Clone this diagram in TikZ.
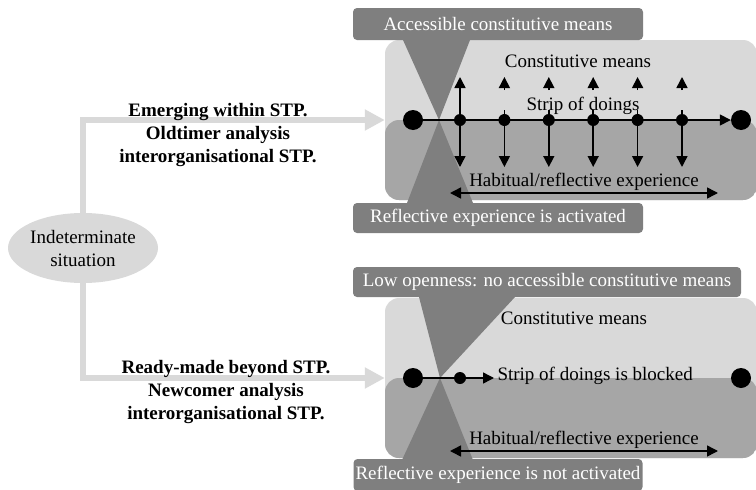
\documentclass[tikz,border=0pt]{standalone}
\usepackage{fontspec}
\setmainfont{Liberation Serif}
\usetikzlibrary{arrows.meta,shapes.geometric}

\definecolor{lightbox}{HTML}{D9D9D9}
\definecolor{darkbox}{HTML}{A6A6A6}
\definecolor{callgray}{HTML}{7F7F7F}

\tikzset{
    stpbox/.style={rounded corners=14pt, minimum width=372pt, minimum height=160pt, fill=lightbox,
        path picture={\fill[darkbox] (path picture bounding box.west) rectangle (path picture bounding box.south east);}},
    callout/.style={fill=callgray, text=white, rounded corners=4pt, inner sep=0pt},
    bigdot/.style={circle, fill=black, minimum size=20pt, inner sep=0pt},
    smalldot/.style={circle, fill=black, minimum size=12pt, inner sep=0pt},
    arr/.style={line width=1.5pt, -{Triangle[length=11pt,width=11pt]}},
    twoarr/.style={line width=1.5pt, {Triangle[length=11pt,width=11pt]}-{Triangle[length=11pt,width=11pt]}},
    flow/.style={line width=6pt, draw=lightbox, -{Triangle[length=20pt,width=20pt]}},
    boldlab/.style={align=center, font=\fontsize{19}{23}\selectfont\bfseries}
}

\begin{document}
\begin{tikzpicture}[x=1pt, y=-1pt, font=\fontsize{19}{23}\selectfont]
    \useasboundingbox (0,0) rectangle (756,490);

    \node[stpbox] (stp1) at (571,120) {};
    \node[stpbox] (stp2) at (571,378) {};

    \fill[callgray] (403,40) -- (470,40) -- (439,120) -- cycle;
    \fill[callgray] (439,120) -- (473,203) -- (407,203) -- cycle;
    \fill[callgray] (419,297) -- (515,297) -- (440,378) -- cycle;
    \fill[callgray] (440,378) -- (473,460) -- (402,460) -- cycle;

    \node[callout, minimum width=290pt, minimum height=32pt] (acc) at (498,24) {Accessible constitutive means};
    \node[callout, minimum width=290pt, minimum height=30pt] (act) at (498,218) {Reflective experience is activated};
    \node[callout, minimum width=388pt, minimum height=30pt] (low) at (547,282) {Low openness: no accessible constitutive means};
    \node[callout, minimum width=289pt, minimum height=32pt] (nact) at (498,475) {Reflective experience is not activated};

    \node[bigdot] (s1) at (413,120) {};
    \node[bigdot] (e1) at (741,120) {};
    \draw[arr] (s1) -- (e1);
    \foreach \x [count=\i] in {460,504.4,548.8,593.2,637.6,682} {
        \node[smalldot] (d\i) at (\x,120) {};
        \coordinate (dn\i) at (\x,167);
        \coordinate (up\i) at (\x,77);
        \coordinate (ut\i) at (\x,90);
        \coordinate (st\i) at (\x,110);
        \draw[arr] (d\i) -- (dn\i);
    }
    \draw[arr] (d1) -- (up1);
    \foreach \i in {2,...,6} {
        \draw[arr] (ut\i) -- (up\i);
        \draw[line width=1.5pt] (d\i) -- (st\i);
    }
    \node (cm1) at (578,61) {Constitutive means};
    \node (sd1) at (583,106) {Strip of doings};
    \node (hab1) at (584,182) {Habitual/reflective experience};
    \coordinate (hl1) at (450,193);
    \coordinate (hr1) at (718,193);
    \draw[twoarr] (hl1) -- (hr1);

    \node[bigdot] (s2) at (413,378) {};
    \node[bigdot] (e2) at (741,378) {};
    \node[smalldot] (d0) at (460,378) {};
    \node[anchor=west] (blk) at (494,376) {Strip of doings is blocked};
    \draw[arr] (s2) -- (blk.west |- s2);
    \node (cm2) at (574,318) {Constitutive means};
    \node (hab2) at (584,440) {Habitual/reflective experience};
    \coordinate (hl2) at (450,451);
    \coordinate (hr2) at (718,451);
    \draw[twoarr] (hl2) -- (hr2);

    \node[ellipse, fill=lightbox, minimum width=150pt, minimum height=70pt, inner sep=0pt, align=center] (sit) at (83,248) {Indeterminate\\situation};
    \draw[flow] (sit.north) |- (stp1.west);
    \draw[flow] (sit.south) |- (stp2.west);

    \node[boldlab] (old) at (218,135) {Emerging within STP.\\Oldtimer analysis\\interorganisational STP.};
    \node[boldlab] (new) at (226,392) {Ready-made beyond STP.\\Newcomer analysis\\interorganisational STP.};
\end{tikzpicture}
\end{document}
